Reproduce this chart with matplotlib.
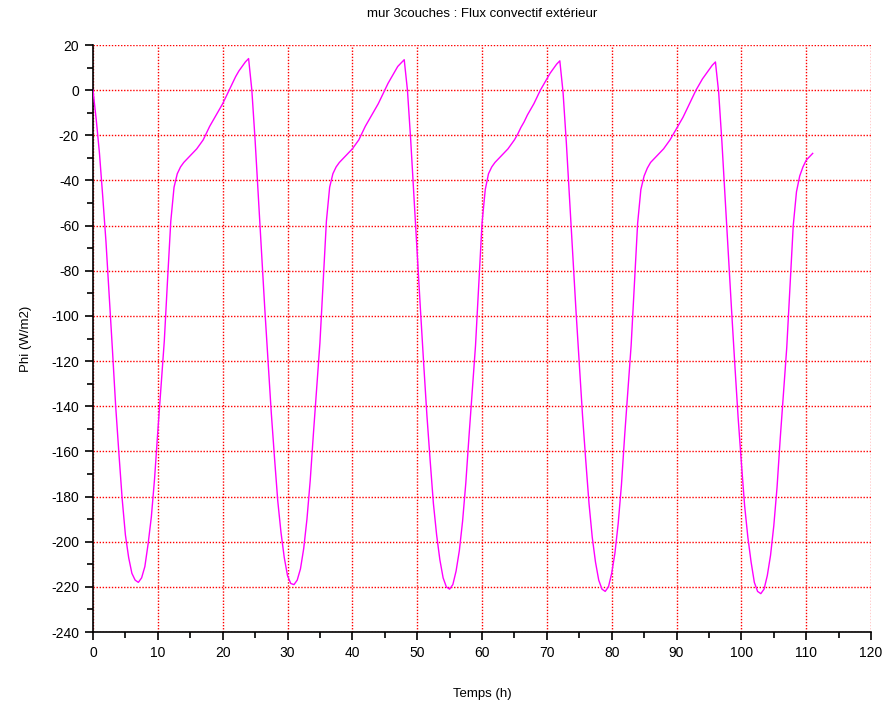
import numpy as np
import matplotlib.pyplot as plt

# pas de 0.5 h, de 0 à 111 h
temps = np.arange(0, 111.5, 0.5)
phi = [
    # jour 1 (0 - 23.5 h)
    0, -13, -28, -47, -67, -91, -115, -140, -161, -181,
    -197, -207, -214, -217, -218, -216, -211, -201, -189, -172,
    -151, -131, -111, -84, -58, -43, -37, -34, -32, -30.5,
    -29, -27.5, -26, -24, -22, -19, -16, -13.5, -11, -8.5,
    -6, -3, 0, 3, 6, 8.5, 10.5, 12.5,
    # jour 2 (24 - 47.5 h)
    14, 0, -22, -47, -72, -97, -120, -143, -163, -182,
    -196, -207, -215, -218.5, -219, -217, -212, -203, -190, -173,
    -152, -132, -112, -85, -58, -43, -37, -34, -32, -30.5,
    -29, -27.5, -26, -24, -22, -19, -16, -13.5, -11, -8.5,
    -6, -3, 0, 3, 5.5, 8, 10.5, 12,
    # jour 3 (48 - 71.5 h)
    13.5, 0, -22, -47, -72, -97, -121, -144, -164, -183,
    -197, -208, -216, -220, -221, -219, -213, -204, -191, -174,
    -153, -133, -113, -86, -59, -44, -37, -34, -32, -30.5,
    -29, -27.5, -26, -24, -22, -19.5, -16.5, -14, -11, -8.5,
    -6, -3, 0, 2.5, 5, 7.5, 9.5, 11.5,
    # jour 4 (72 - 95.5 h)
    13, -1, -23, -48, -73, -98, -121, -144, -164, -183,
    -198, -209, -217, -221, -222, -220, -214, -205, -192, -175,
    -153, -133, -113, -86, -59, -44, -38, -34.5, -32, -30.5,
    -29, -27.5, -26, -24, -22, -19.5, -17, -14.5, -12, -9,
    -6, -3, 0, 2.5, 5, 7, 9, 11,
    # jour 5 (96 - 111 h)
    12.5, -1, -23, -48, -73, -98, -122, -145, -165, -184,
    -198, -209, -218, -222, -223, -221, -215, -206, -193, -176,
    -154, -134, -114, -87, -60, -45, -38, -34, -31, -29.5,
    -28,
]

xticks = list(range(0, 121, 10))
yticks = list(range(-240, 21, 20))

plt.rcParams['font.family'] = ['Liberation Sans', 'DejaVu Sans']
plt.rcParams['axes.unicode_minus'] = False

fig = plt.figure(figsize=(8.89, 7.08), dpi=100)
ax = fig.add_axes([0.1046, 0.1073, 0.8752, 0.8291])

ax.plot(temps, phi, color='#ff00ff', linewidth=1.0, zorder=3)

ax.set_xlim(0, 120)
ax.set_ylim(-240, 20)
ax.set_xticks(xticks)
ax.set_yticks(yticks)
ax.set_xticks(np.arange(5, 120, 10), minor=True)
ax.set_yticks(np.arange(-230, 20, 20), minor=True)

ax.grid(True, which='major', color='red', linestyle=(0, (1, 1.2)),
        linewidth=1.0, zorder=1)
ax.set_axisbelow(True)

for s in ['top', 'right']:
    ax.spines[s].set_visible(False)
ax.spines['left'].set_linewidth(1.2)
ax.spines['bottom'].set_linewidth(1.2)

ax.tick_params(which='major', direction='out', length=6, width=1.2,
               labelsize=10, pad=4)
ax.tick_params(which='minor', direction='out', length=4, width=1.2)

ax.set_xlabel('Temps (h)', fontsize=9.5, labelpad=20)
ax.set_ylabel('Phi (W/m2)', fontsize=9.5, labelpad=14)
ax.set_title('mur 3couches : Flux convectif extérieur', fontsize=9.5, pad=20)

fig.savefig('out.png', dpi=100, facecolor='white')
